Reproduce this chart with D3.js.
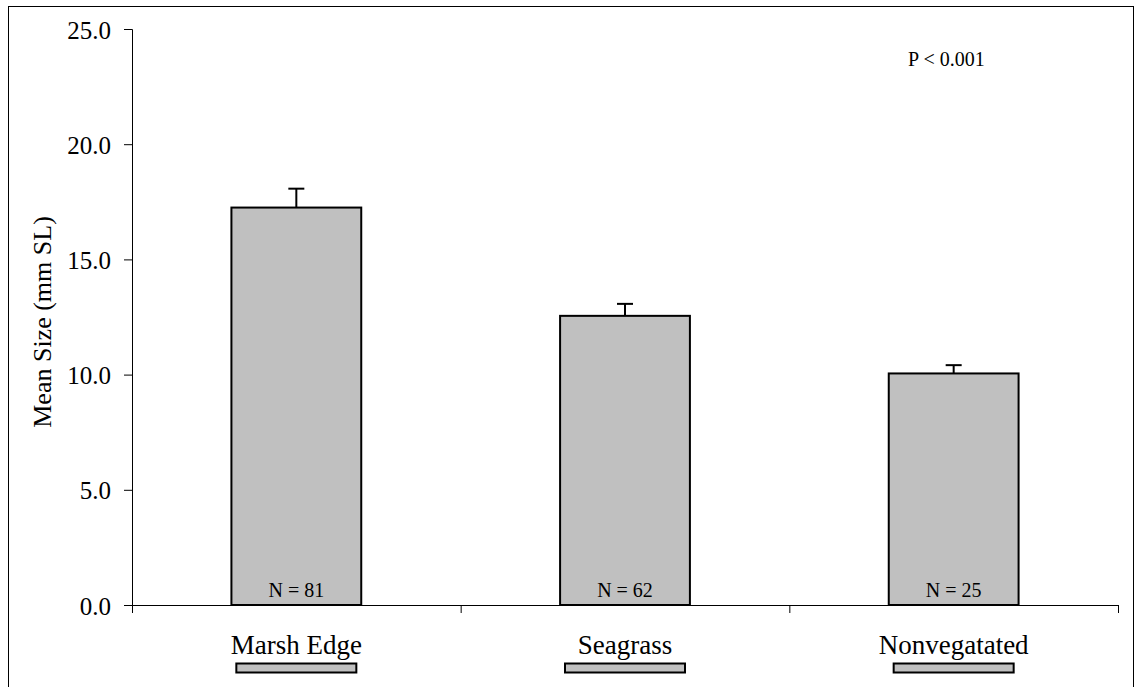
<!DOCTYPE html>
<html>
<head>
<meta charset="utf-8">
<script src="https://cdn.jsdelivr.net/npm/d3@7"></script>
<style>
  body { margin: 0; background: #fff; }
  text { font-family: "Liberation Serif", "DejaVu Serif", serif; }
</style>
</head>
<body>
<svg width="1139" height="687"></svg>
<script>
const svg = d3.select("svg");

// DATA
const categories = ["Marsh Edge", "Seagrass", "Nonvegatated"];
const means = [17.25, 12.55, 10.05];
const errors = [0.82, 0.52, 0.36];
const sampleSizes = [81, 62, 25];
const yTicks = [0, 5, 10, 15, 20, 25];

// CONSTANTS
const serif = "'Liberation Serif', 'DejaVu Serif', serif";
const margin = { top: 29, left: 132, right: 21, bottom: 82 };
const width = +svg.attr("width");
const height = +svg.attr("height");
const innerWidth = width - margin.left - margin.right;
const innerHeight = height - margin.top - margin.bottom;

// outer frame
svg.append("rect")
  .attr("x", 8.5).attr("y", 6.5)
  .attr("width", 1125).attr("height", 700)
  .attr("fill", "none").attr("stroke", "#000").attr("stroke-width", 1);

// SCALES
const xScale = d3.scaleBand().domain(categories).range([0, innerWidth]);
const yScale = d3.scaleLinear().domain([0, 25]).range([innerHeight, 0]);
const barWidth = xScale.bandwidth() * 0.395;

const g = svg.append("g").attr("transform", `translate(${margin.left}, ${margin.top})`);

// y axis
const yAxis = g.append("g")
  .attr("font-family", serif)
  .call(d3.axisLeft(yScale).tickValues(yTicks).tickFormat(d3.format(".1f")).tickSizeOuter(0).tickSize(8).tickPadding(13));
yAxis.select(".domain").attr("stroke", "#000");
yAxis.selectAll("text")
  .attr("font-size", "25px")
  .attr("font-family", serif)
  .attr("fill", "#000")
  .attr("dy", "0.36em");

// bars
const data = categories.map((c, i) => ({ name: c, mean: means[i], err: errors[i], n: sampleSizes[i] }));

g.selectAll("rect.bar").data(data).enter().append("rect")
  .attr("class", "bar")
  .attr("x", d => xScale(d.name) + (xScale.bandwidth() - barWidth) / 2)
  .attr("y", d => yScale(d.mean))
  .attr("width", barWidth)
  .attr("height", d => innerHeight - yScale(d.mean))
  .attr("fill", "#c0c0c0")
  .attr("stroke", "#000")
  .attr("stroke-width", 2);

// error bars (upper only)
const errG = g.selectAll("g.err").data(data).enter().append("g").attr("class", "err")
  .attr("transform", d => `translate(${xScale(d.name) + xScale.bandwidth() / 2}, 0)`);
errG.append("line")
  .attr("x1", 0).attr("x2", 0)
  .attr("y1", d => yScale(d.mean)).attr("y2", d => yScale(d.mean + d.err))
  .attr("stroke", "#000").attr("stroke-width", 2);
errG.append("line")
  .attr("x1", -8).attr("x2", 8)
  .attr("y1", d => yScale(d.mean + d.err)).attr("y2", d => yScale(d.mean + d.err))
  .attr("stroke", "#000").attr("stroke-width", 2);

// N labels
g.selectAll("text.n").data(data).enter().append("text")
  .attr("class", "n")
  .attr("x", d => xScale(d.name) + xScale.bandwidth() / 2)
  .attr("y", innerHeight - 8)
  .attr("text-anchor", "middle")
  .attr("font-family", serif)
  .attr("font-size", "20px")
  .text(d => `N = ${d.n}`);

// x axis with downward ticks at category boundaries
const xAxis = g.append("g").attr("transform", `translate(0, ${innerHeight})`);
xAxis.append("line").attr("x1", 0).attr("x2", innerWidth).attr("y1", 0.5).attr("y2", 0.5).attr("stroke", "#000");
const bounds = [0].concat(categories.map(c => xScale(c) + xScale.bandwidth()));
xAxis.selectAll("line.tick").data(bounds).enter().append("line")
  .attr("class", "tick")
  .attr("x1", d => d + 0.5).attr("x2", d => d + 0.5)
  .attr("y1", 0).attr("y2", 8)
  .attr("stroke", "#000");

// category labels
xAxis.selectAll("text.cat").data(categories).enter().append("text")
  .attr("class", "cat")
  .attr("x", d => xScale(d) + xScale.bandwidth() / 2)
  .attr("y", 49)
  .attr("text-anchor", "middle")
  .attr("font-family", serif)
  .attr("font-size", "27px")
  .text(d => d);

// gray key boxes below labels
xAxis.selectAll("rect.key").data(categories).enter().append("rect")
  .attr("class", "key")
  .attr("x", d => xScale(d) + xScale.bandwidth() / 2 - 60)
  .attr("y", 58.5)
  .attr("width", 120)
  .attr("height", 9)
  .attr("fill", "#c0c0c0")
  .attr("stroke", "#000")
  .attr("stroke-width", 2);

// y axis title
svg.append("text")
  .attr("transform", `translate(51, 322) rotate(-90)`)
  .attr("text-anchor", "middle")
  .attr("font-family", serif)
  .attr("font-size", "26px")
  .text("Mean Size (mm SL)");

// p value
svg.append("text")
  .attr("x", 908).attr("y", 66)
  .attr("font-family", serif)
  .attr("font-size", "20px")
  .text("P < 0.001");
</script>
</body>
</html>
